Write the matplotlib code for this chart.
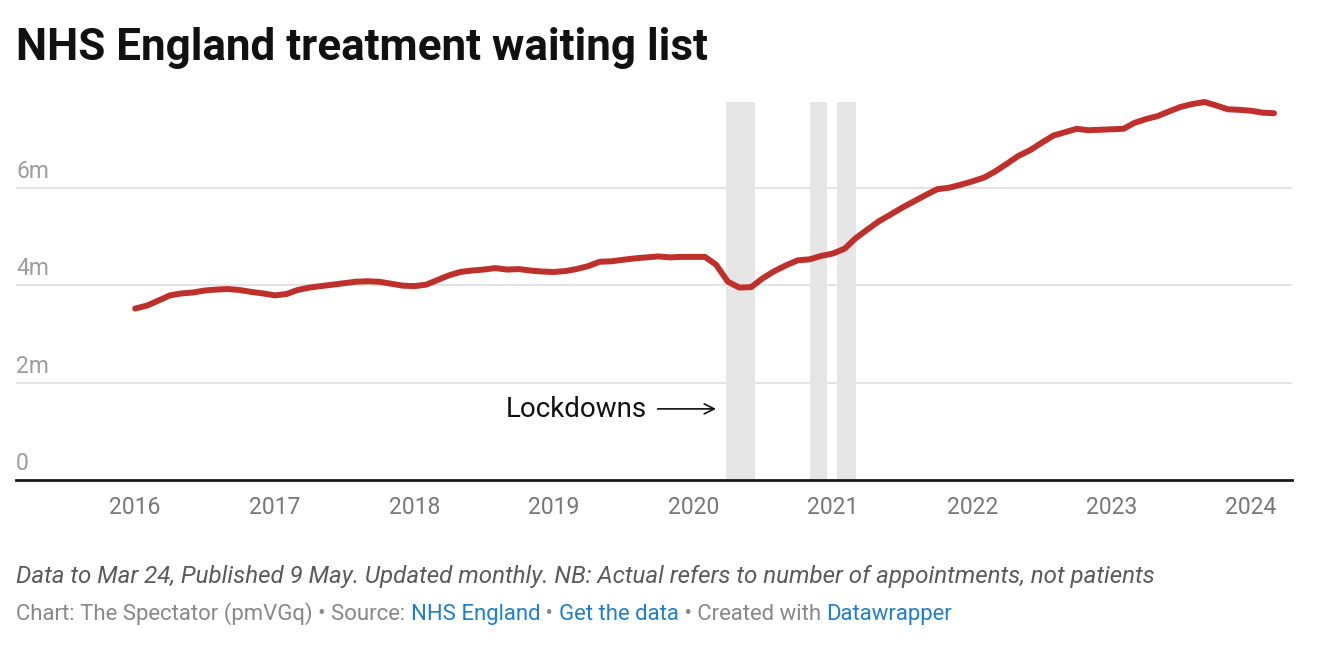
import matplotlib

matplotlib.use("Agg")
import matplotlib.pyplot as plt
import pandas as pd

plt.rcParams["font.family"] = ["Roboto", "DejaVu Sans"]

# monthly waiting list, millions, Jan 2016 - Mar 2024
months = pd.date_range("2016-01-01", "2024-03-01", freq="MS")
waiting_m = [
    3.52, 3.58, 3.68, 3.79, 3.83, 3.85, 3.89, 3.91, 3.92, 3.90, 3.86, 3.83,
    3.79, 3.82, 3.90, 3.95, 3.98, 4.01, 4.04, 4.07, 4.08, 4.07, 4.03, 3.99,
    3.98, 4.01, 4.10, 4.20, 4.27, 4.30, 4.32, 4.35, 4.32, 4.33, 4.30, 4.28,
    4.27, 4.29, 4.33, 4.39, 4.48, 4.49, 4.52, 4.55, 4.57, 4.59, 4.57, 4.58,
    4.58, 4.58, 4.42, 4.07, 3.95, 3.96, 4.14, 4.29, 4.41, 4.51, 4.53, 4.60,
    4.65, 4.75, 4.96, 5.14, 5.31, 5.45, 5.59, 5.72, 5.85, 5.97, 6.00, 6.06,
    6.13, 6.21, 6.33, 6.49, 6.65, 6.77, 6.92, 7.07, 7.14, 7.21, 7.18, 7.19,
    7.20, 7.21, 7.33, 7.41, 7.47, 7.57, 7.66, 7.72, 7.76, 7.69, 7.61, 7.60,
    7.58, 7.54, 7.53,
]

lockdown_starts = ["2020-03-26", "2020-11-01", "2021-01-11"]
lockdown_ends = ["2020-06-12", "2020-12-17", "2021-03-02"]

year_ticks = list(range(2016, 2025))
y_ticks = [0, 2, 4, 6]
y_labels = ["0", "2m", "4m", "6m"]

RED = "#c0302a"
BLUE = "#1f7fc9"
W, H = 1326, 666


def text_run(fig, x_px, y_px, parts, **kw):
    """Place coloured text pieces one after another on a single line."""
    renderer = fig.canvas.get_renderer()
    x = x_px / W
    for s, color in parts:
        t = fig.text(x, 1 - y_px / H, s, color=color, va="baseline", **kw)
        x = t.get_window_extent(renderer).x1 / W


fig = plt.figure(figsize=(W / 100, H / 100), dpi=100)
ax = fig.add_axes([16 / W, (H - 480) / H, (1292 - 16) / W, (480 - 102) / H])

for start, end in zip(lockdown_starts, lockdown_ends):
    ax.axvspan(pd.Timestamp(start), pd.Timestamp(end), color="#e6e6e6", lw=0, zorder=1)

for v in y_ticks[1:]:
    ax.axhline(v, color="#e3e3e3", lw=1.4, zorder=0)
ax.axhline(0, color="#1a1a1a", lw=2, zorder=3, clip_on=False)

ax.plot(months, waiting_m, color=RED, lw=4.3, solid_capstyle="round",
        solid_joinstyle="round", zorder=4, clip_on=False)

ax.set_xlim(pd.Timestamp("2015-02-23"), pd.Timestamp("2024-04-17"))
ax.set_ylim(0, 7.76)

ax.set_xticks([pd.Timestamp(f"{y}-01-01") for y in year_ticks])
ax.set_xticklabels([str(y) for y in year_ticks])
ax.set_yticks([])
ax.tick_params(axis="x", length=0, pad=11.5, labelsize=16.5, labelcolor="#777777")
for s in ax.spines.values():
    s.set_visible(False)

for v, lab in zip(y_ticks, y_labels):
    ax.annotate(lab, xy=(0, v), xycoords=ax.get_yaxis_transform(),
                xytext=(0, 7.2), textcoords="offset points",
                ha="left", va="baseline", fontsize=16.5, color="#9d9d9d")

# lockdown annotation
ax.text(pd.Timestamp("2019-09-01"), 1.44, "Lockdowns", ha="right", va="center",
        fontsize=20, color="#111111")
ax.annotate("", xy=(pd.Timestamp("2020-03-01"), 1.46),
            xytext=(pd.Timestamp("2019-09-30"), 1.46),
            arrowprops=dict(arrowstyle="->", color="#111111", lw=1.2,
                            mutation_scale=18, shrinkA=0, shrinkB=0))

fig.text(16 / W, 1 - 60 / H, "NHS England treatment waiting list",
         fontsize=31.7, fontweight="bold", color="#111111", va="baseline")

fig.text(16 / W, 1 - 583 / H,
         "Data to Mar 24, Published 9 May. Updated monthly. NB: Actual refers to "
         "number of appointments, not patients",
         fontsize=17.4, fontstyle="italic", color="#5a5a5a", va="baseline")

text_run(fig, 16, 620, [
    ("Chart: The Spectator (pmVGq) \u2022 Source: ", "#888888"),
    ("NHS England", BLUE),
    (" \u2022 ", "#888888"),
    ("Get the data", BLUE),
    (" \u2022 Created with ", "#888888"),
    ("Datawrapper", BLUE),
], fontsize=15.9)

fig.savefig("out.png", dpi=100, facecolor="white")
